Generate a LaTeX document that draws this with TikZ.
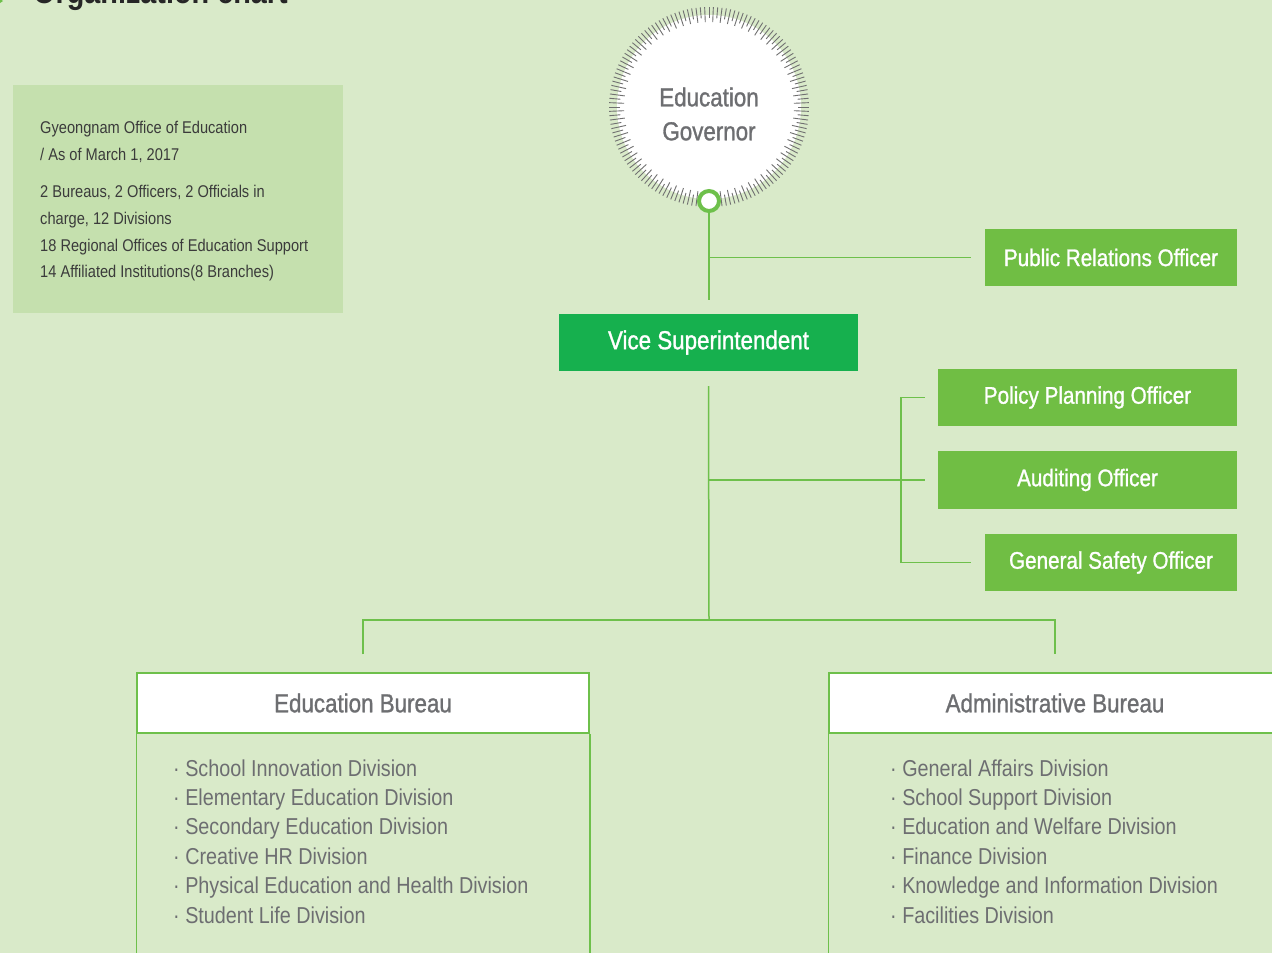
\documentclass[tikz,border=0pt]{standalone}
\usepackage{fontspec}
\setmainfont{Liberation Sans}[FakeStretch=0.86]
\newfontfamily\medfont{Liberation Sans}[FakeStretch=0.86, FakeBold=1.1]
\definecolor{bg}{HTML}{D9EAC9}
\definecolor{infog}{HTML}{C5E0AE}
\definecolor{offg}{HTML}{70BE44}
\definecolor{vsg}{HTML}{16B04E}
\definecolor{lineg}{HTML}{6EC04B}
\definecolor{txtgray}{HTML}{6D6E71}
\definecolor{infotxt}{HTML}{3B3B3B}
\definecolor{tickgray}{HTML}{707070}
\begin{document}
\begin{tikzpicture}[x=1pt,y=-1pt,
  conn/.style={draw=lineg, line width=1.5pt},
  officer/.style={fill=offg, text=white, minimum height=57pt, inner sep=0pt, font=\medfont\fontsize{24}{28}\selectfont},
  vicebox/.style={fill=vsg, text=white, minimum height=57pt, minimum width=299pt, inner sep=0pt, font=\medfont\fontsize{26}{30}\selectfont},
  bureauhead/.style={draw=lineg, line width=1.5pt, fill=white, minimum width=452pt, minimum height=60pt, inner sep=0pt, text=txtgray, font=\medfont\fontsize{26}{30}\selectfont},
  infoline/.style={anchor=base west, inner sep=0pt, text=infotxt, font=\fontsize{17}{21}\selectfont},
  divline/.style={anchor=base west, inner sep=0pt, text=txtgray, font=\fontsize{23}{27}\selectfont},
  tickmark/.style={draw=tickgray, line width=0.9pt}
]
\useasboundingbox (0,0) rectangle (1272,953);
\clip (0,0) rectangle (1272,953);
\fill[bg] (0,0) rectangle (1272,953);

% title (cut off at top, as in the reference)
\fill[lineg] (-10,-8) -- (3,1) -- (-10,10) -- cycle;
\node[anchor=base west, inner sep=0pt, text=black!85, font=\bfseries\fontsize{33.5}{36}\selectfont] (title) at (33,4) {Organization chart};

% info box
\node[fill=infog, minimum width=330pt, minimum height=228pt, anchor=north west, inner sep=0pt] (info) at (13,85) {};
\node[infoline] (i1) at (40,133) {Gyeongnam Office of Education};
\node[infoline] (i2) at (40,160) {/ As of March 1, 2017};
\node[infoline] (i3) at (40,197) {2 Bureaus, 2 Officers, 2 Officials in};
\node[infoline] (i4) at (40,224) {charge, 12 Divisions};
\node[infoline] (i5) at (40,251) {18 Regional Offices of Education Support};
\node[infoline] (i6) at (40,277) {14 Affiliated Institutions(8 Branches)};

% governor
\node[circle, fill=white, minimum size=184pt, inner sep=0pt] (gov) at (709,107) {};
\foreach \a [count=\i] in {0,2.5,...,357.5} {
  \pgfmathsetmacro\rin{mod(\i,2)==0 ? 85 : 89}
  \draw[tickmark] (gov.center) ++(\a:\rin) -- ++(\a:100-\rin);
}
\node[align=center, inner sep=0pt, text=txtgray, font=\medfont\fontsize{26}{34}\selectfont] (govtxt) at (709,114) {Education\\Governor};
\node[circle, draw=lineg, line width=4pt, fill=white, minimum size=20pt, inner sep=0pt] (ring) at (709,201) {};

% boxes
\node[officer, minimum width=252pt] (pr) at (1111,257.5) {Public Relations Officer};
\node[vicebox] (vs) at (708.5,342.5) {Vice Superintendent};
\node[officer, minimum width=299pt] (pp) at (1087.5,397.5) {Policy Planning Officer};
\node[officer, minimum width=299pt, minimum height=58pt] (aud) at (1087.5,480) {Auditing Officer};
\node[officer, minimum width=252pt] (gs) at (1111,562.5) {General Safety Officer};

\node[bureauhead] (eb) at (363,703) {Education Bureau};
\node[bureauhead] (ab) at (1055,703) {Administrative Bureau};

% connectors
\coordinate (govend) at (709,300);
\coordinate (hub) at (709,620);
\coordinate (brk) at (901,480);
\draw[conn] (ring.south) -- (govend);
\draw[conn] (ring.south |- pr.west) -- ([xshift=-14pt]pr.west);
\draw[conn] ([yshift=-15pt]vs.south) -- (hub);
\draw[conn] (hub |- aud.west) -- ([xshift=-13pt]aud.west);
\draw[conn] ([xshift=-13pt]pp.west) -| (brk |- gs.west) -- ([xshift=-14pt]gs.west);
\draw[conn] ([yshift=18pt]eb.north) |- (hub) -| ([yshift=18pt]ab.north);

% bureau bodies
\draw[conn] (eb.south west) -- ++(0,240);
\draw[conn] (eb.south east) -- ++(0,240);
\draw[conn] (ab.south west) -- ++(0,240);

% division lists
\foreach \t [count=\k] in {School Innovation Division, Elementary Education Division, Secondary Education Division, Creative HR Division, Physical Education and Health Division, Student Life Division} {
  \node[divline, name=ed\k] at (173,{776+29.4*(\k-1)}) {· \t};
}
\foreach \t [count=\k] in {General Affairs Division, School Support Division, Education and Welfare Division, Finance Division, Knowledge and Information Division, Facilities Division} {
  \node[divline, name=ad\k] at (890,{776+29.4*(\k-1)}) {· \t};
}
\end{tikzpicture}
\end{document}
